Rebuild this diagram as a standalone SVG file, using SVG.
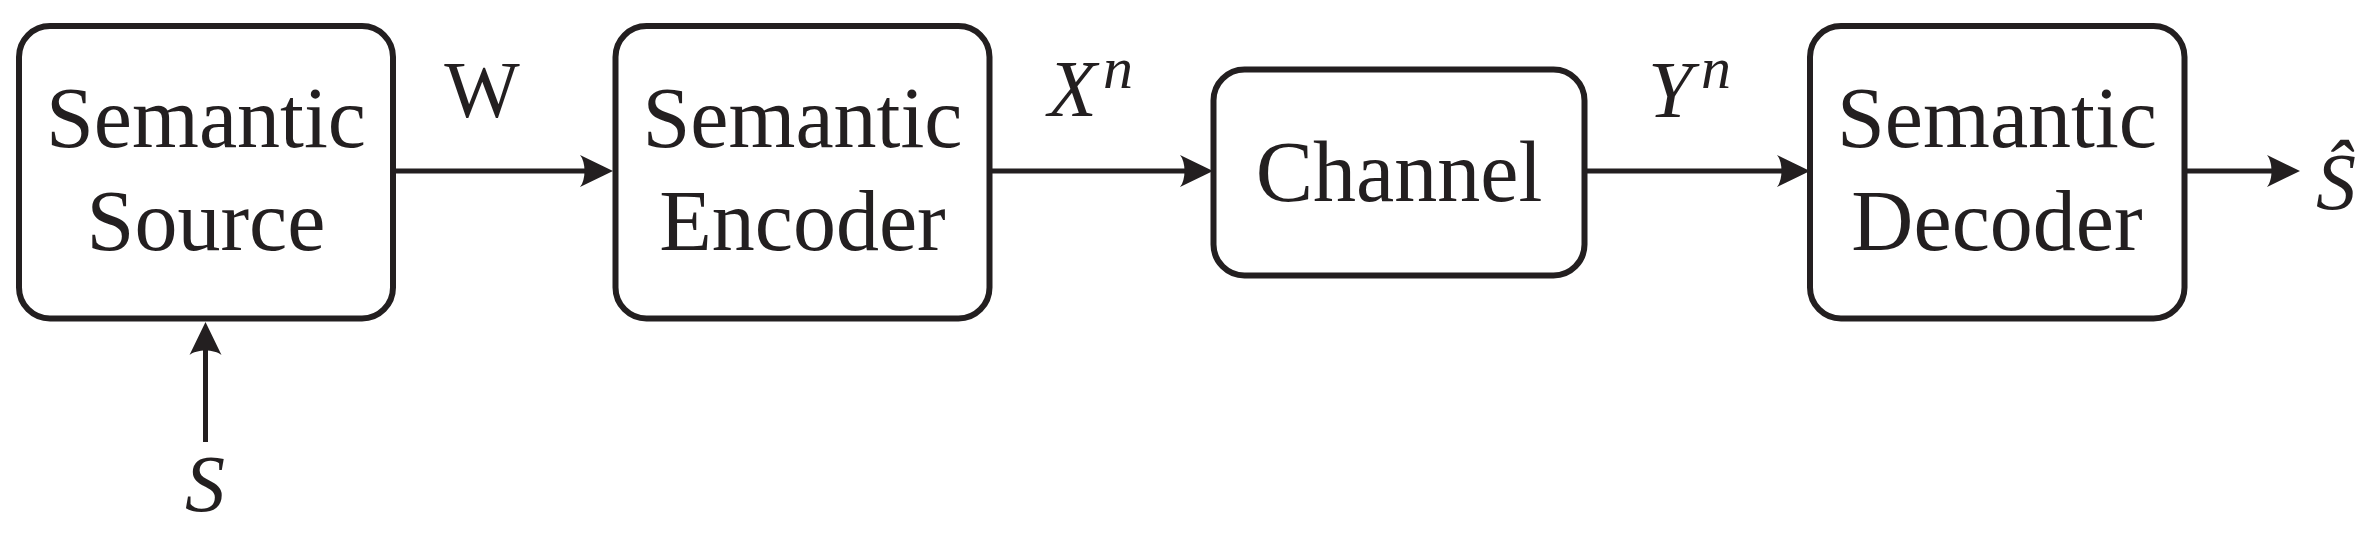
<svg xmlns="http://www.w3.org/2000/svg" width="2372" height="536" viewBox="0 0 2372 536">
<style>
.box{fill:#fff;stroke:#231f20;stroke-width:6}
.lbl{font-family:"Liberation Serif","Times New Roman",serif;font-size:86px;fill:#231f20;text-anchor:middle}
.math{font-family:"Liberation Serif","Times New Roman",serif;font-size:80px;fill:#231f20;font-style:italic}
.sup{font-size:60px}
.conn{stroke:#231f20;stroke-width:5;fill:none}
</style>
<defs>
<marker id="ah" viewBox="0 0 36 36" refX="24" refY="18" markerWidth="36" markerHeight="36" markerUnits="userSpaceOnUse" orient="auto" overflow="visible">
<path d="M33,18 L0,2 C6,9 6,27 0,34 Z" fill="#231f20"/>
</marker>
</defs>
<rect width="2372" height="536" fill="#fff"/>
<g id="connectors">
<line class="conn" x1="393" y1="171" x2="604" y2="171" marker-end="url(#ah)"/>
<line class="conn" x1="989" y1="171" x2="1204" y2="171" marker-end="url(#ah)"/>
<line class="conn" x1="1585" y1="171" x2="1801" y2="171" marker-end="url(#ah)"/>
<line class="conn" x1="2184" y1="171" x2="2291" y2="171" marker-end="url(#ah)"/>
<line class="conn" x1="205.5" y1="442" x2="205.5" y2="331" marker-end="url(#ah)"/>
</g>
<g id="source">
<rect class="box" x="19" y="26" width="374" height="292.5" rx="31"/>
<text class="lbl" x="206" y="147">Semantic</text>
<text class="lbl" x="206" y="250">Source</text>
</g>
<g id="encoder">
<rect class="box" x="615.5" y="26" width="374" height="292.5" rx="31"/>
<text class="lbl" x="802.5" y="147">Semantic</text>
<text class="lbl" x="802.5" y="250">Encoder</text>
</g>
<g id="channel">
<rect class="box" x="1213.5" y="69.5" width="371" height="206" rx="31"/>
<text class="lbl" x="1399" y="201">Channel</text>
</g>
<g id="decoder">
<rect class="box" x="1810" y="26" width="374.5" height="292.5" rx="31"/>
<text class="lbl" x="1997" y="147">Semantic</text>
<text class="lbl" x="1997" y="250">Decoder</text>
</g>
<g id="labels">
<text class="math" x="482" y="117" text-anchor="middle" style="font-style:normal">W</text>
<text class="math" x="1048" y="116">X</text>
<text class="math sup" x="1103" y="88">n</text>
<text class="math" x="1648" y="117">Y</text>
<text class="math sup" x="1701" y="88">n</text>
<text class="math" x="205" y="511" text-anchor="middle">S</text>
<text class="math" x="2316" y="209">Ŝ</text>
</g>
</svg>
